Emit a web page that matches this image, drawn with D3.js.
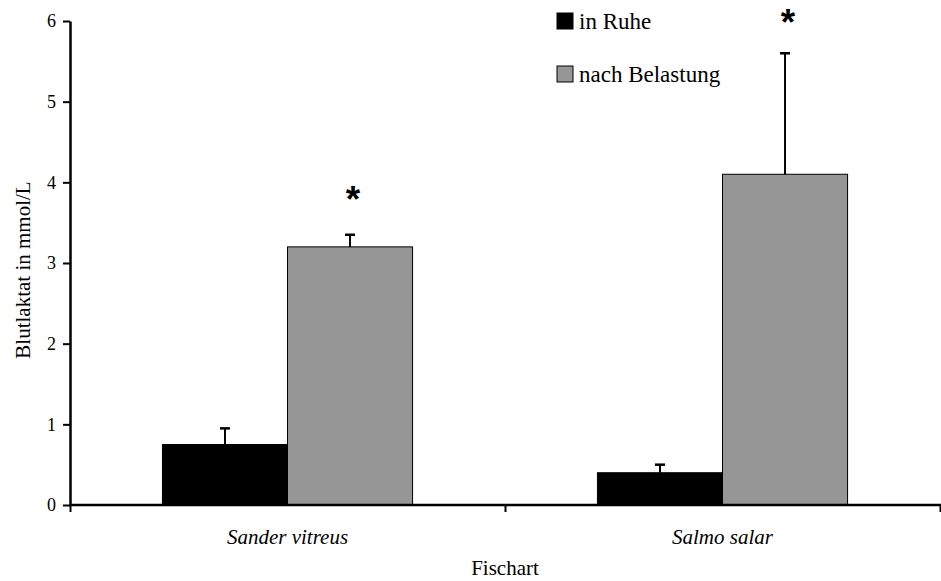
<!DOCTYPE html>
<html>
<head>
<meta charset="utf-8">
<script src="https://cdn.jsdelivr.net/npm/d3@7"></script>
<style>
  body { margin: 0; background: #fff; }
  svg { display: block; }
</style>
</head>
<body>
<div id="chart"></div>
<script>
var categories = ["Sander vitreus", "Salmo salar"];
var series = ["in Ruhe", "nach Belastung"];
var restValues = [0.75, 0.4];
var restErrors = [0.2, 0.1];
var loadValues = [3.2, 4.1];
var loadErrors = [0.15, 1.5];
var starValues = [3.8, 6.0];
var yTicks = [0, 1, 2, 3, 4, 5, 6];

var w = 941,
  h = 581;
var plotLeft = 70,
  plotRight = 940,
  plotTop = 21,
  plotBottom = 505;
var colors = ["#000000", "#969696"];
var serif = "'Liberation Serif', 'Times New Roman', serif";

var svg = d3.select("#chart").append("svg").attr("width", w).attr("height", h);

var y = d3.scaleLinear().domain([0, 6]).range([plotBottom, plotTop]);
var x0 = d3.scaleBand().domain(categories).range([plotLeft, plotRight]).padding(0);
var groupPad = x0.bandwidth() * 0.2125;
var x1 = d3
  .scaleBand()
  .domain(series)
  .range([groupPad, x0.bandwidth() - groupPad])
  .padding(0);

var rows = categories.map(function (c, i) {
  return {
    cat: c,
    vals: [
      { s: series[0], v: restValues[i], e: restErrors[i] },
      { s: series[1], v: loadValues[i], e: loadErrors[i] }
    ],
    star: starValues[i]
  };
});

// bars
var groups = svg
  .selectAll("g.grp")
  .data(rows)
  .enter()
  .append("g")
  .attr("class", "grp")
  .attr("transform", function (d) {
    return "translate(" + x0(d.cat) + ",0)";
  });

groups
  .selectAll("rect")
  .data(function (d) {
    return d.vals;
  })
  .enter()
  .append("rect")
  .attr("x", function (d) {
    return x1(d.s);
  })
  .attr("y", function (d) {
    return y(d.v);
  })
  .attr("width", x1.bandwidth())
  .attr("height", function (d) {
    return y(0) - y(d.v);
  })
  .style("fill", function (d, i) {
    return colors[i];
  })
  .style("stroke", "#000")
  .style("stroke-width", 1);

// error bars (upper only)
groups
  .selectAll("line.err")
  .data(function (d) {
    return d.vals;
  })
  .enter()
  .append("line")
  .attr("class", "err")
  .attr("x1", function (d) {
    return x1(d.s) + x1.bandwidth() / 2;
  })
  .attr("x2", function (d) {
    return x1(d.s) + x1.bandwidth() / 2;
  })
  .attr("y1", function (d) {
    return y(d.v);
  })
  .attr("y2", function (d) {
    return y(d.v + d.e);
  })
  .style("stroke", "#000")
  .style("stroke-width", 2);

groups
  .selectAll("line.cap")
  .data(function (d) {
    return d.vals;
  })
  .enter()
  .append("line")
  .attr("class", "cap")
  .attr("x1", function (d) {
    return x1(d.s) + x1.bandwidth() / 2 - 5;
  })
  .attr("x2", function (d) {
    return x1(d.s) + x1.bandwidth() / 2 + 5;
  })
  .attr("y1", function (d) {
    return y(d.v + d.e);
  })
  .attr("y2", function (d) {
    return y(d.v + d.e);
  })
  .style("stroke", "#000")
  .style("stroke-width", 2.5);

// significance stars
groups
  .append("text")
  .text("*")
  .attr("x", function (d) {
    return x1(series[1]) + x1.bandwidth() / 2 + 3;
  })
  .attr("y", function (d) {
    return y(d.star) + 14;
  })
  .attr("text-anchor", "middle")
  .style("font-family", "'Liberation Sans', Arial, sans-serif")
  .style("font-weight", "bold")
  .style("font-size", "37px");

// y axis
var yAxis = svg
  .append("g")
  .attr("transform", "translate(" + plotLeft + ",0)")
  .call(
    d3
      .axisLeft(y)
      .tickValues(yTicks)
      .tickFormat(d3.format("d"))
      .tickSize(7)
      .tickSizeOuter(0)
      .tickPadding(7)
  );
yAxis.attr("font-family", null).attr("font-size", null);
yAxis.select(".domain").style("stroke-width", 2.5);
yAxis.selectAll(".tick line").style("stroke-width", 2);
yAxis
  .selectAll("text")
  .style("font-family", serif)
  .style("font-size", "18px");

// x axis with ticks at category boundaries
var xb = d3.scaleLinear().domain([0, categories.length]).range([plotLeft, plotRight]);
var xAxis = svg
  .append("g")
  .attr("transform", "translate(0," + plotBottom + ")")
  .call(
    d3
      .axisBottom(xb)
      .tickValues(d3.range(categories.length + 1))
      .tickFormat("")
      .tickSize(7)
      .tickSizeOuter(0)
  );
xAxis.select(".domain").attr("d", "M" + plotLeft + ",0H" + w).style("stroke-width", 2.5);
xAxis.selectAll(".tick line").style("stroke-width", 2);

svg
  .selectAll("text.cat")
  .data(categories)
  .enter()
  .append("text")
  .attr("class", "cat")
  .text(function (d) {
    return d;
  })
  .attr("x", function (d) {
    return x0(d) + x0.bandwidth() / 2;
  })
  .attr("y", 544)
  .attr("text-anchor", "middle")
  .style("font-family", serif)
  .style("font-style", "italic")
  .style("font-size", "21px");

// axis titles
svg
  .append("text")
  .text("Fischart")
  .attr("x", (plotLeft + plotRight) / 2)
  .attr("y", 575)
  .attr("text-anchor", "middle")
  .style("font-family", serif)
  .style("font-size", "21px");

svg
  .append("text")
  .text("Blutlaktat in mmol/L")
  .attr("transform", "translate(30,270) rotate(-90)")
  .attr("text-anchor", "middle")
  .style("font-family", serif)
  .style("font-size", "21px");

// legend
var legend = svg
  .selectAll("g.leg")
  .data(series)
  .enter()
  .append("g")
  .attr("class", "leg")
  .attr("transform", function (d, i) {
    return "translate(557," + (13 + i * 53) + ")";
  });
legend
  .append("rect")
  .attr("width", 16)
  .attr("height", 16)
  .style("fill", function (d, i) {
    return colors[i];
  })
  .style("stroke", "#000")
  .style("stroke-width", 1);
legend
  .append("text")
  .text(function (d) {
    return d;
  })
  .attr("x", 22)
  .attr("y", 16)
  .style("font-family", serif)
  .style("font-size", "23px");
</script>
</body>
</html>
